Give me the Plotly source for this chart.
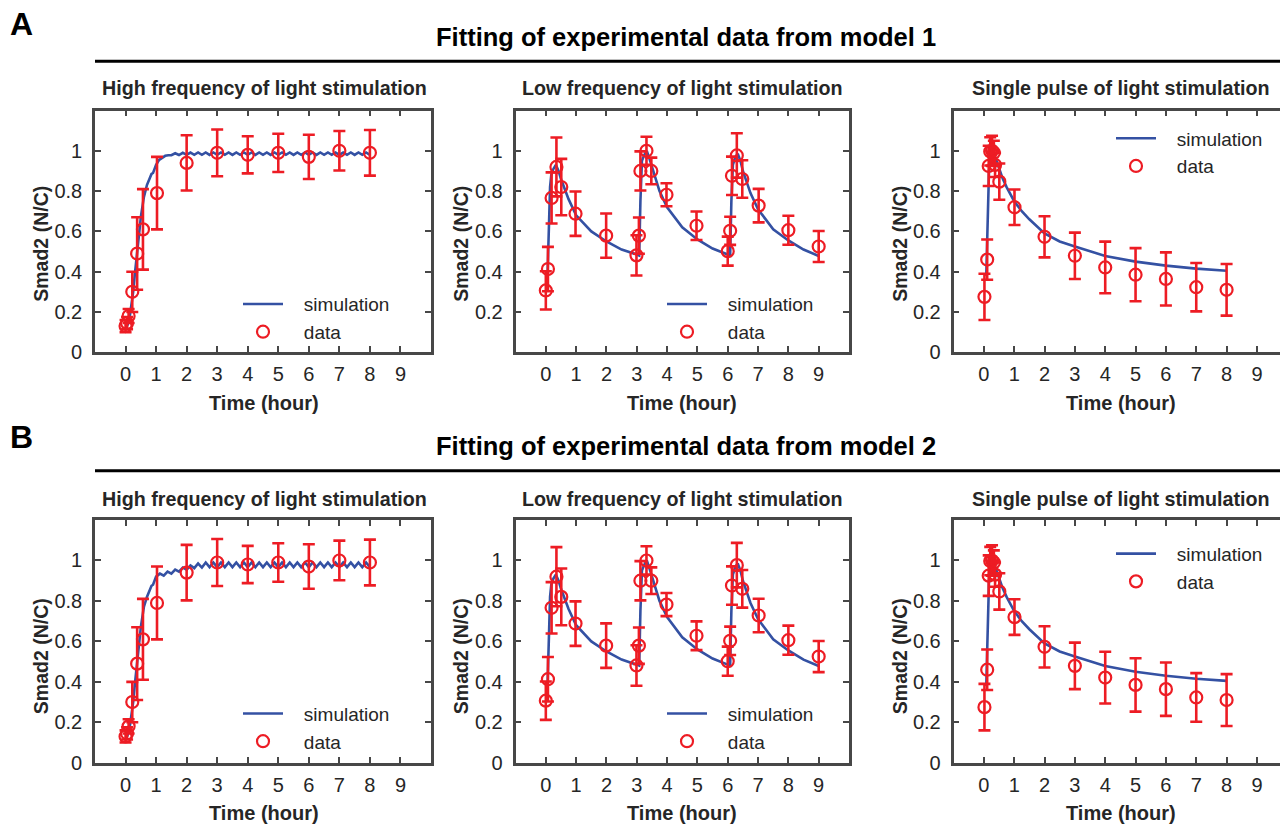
import plotly.graph_objects as go

# ---------------- data ----------------
# High frequency of light stimulation: experimental data
hf_t = [0.0, 0.05, 0.1, 0.22, 0.38, 0.57, 1.03, 2, 3, 4, 5, 6, 7, 8]
hf_v = [0.13, 0.145, 0.18, 0.30, 0.49, 0.61, 0.79, 0.94, 0.99, 0.98, 0.99, 0.97, 1.0, 0.99]
hf_e = [0.03, 0.03, 0.035, 0.10, 0.18, 0.20, 0.18, 0.137, 0.116, 0.092, 0.095, 0.11, 0.098, 0.113]

# High frequency: simulation, model 1
hf_sim1_t = [0.05, 0.1, 0.15, 0.2, 0.25, 0.3, 0.35, 0.4, 0.45, 0.5, 0.55, 0.6, 0.7, 0.8, 0.85,
             0.9, 1.0, 1.1, 1.2, 1.3, 1.4,
             1.5, 1.625, 1.75, 1.875, 2.0, 2.125, 2.25, 2.375, 2.5, 2.625, 2.75, 2.875,
             3.0, 3.125, 3.25, 3.375, 3.5, 3.625, 3.75, 3.875, 4.0, 4.125, 4.25, 4.375,
             4.5, 4.625, 4.75, 4.875, 5.0, 5.125, 5.25, 5.375, 5.5, 5.625, 5.75, 5.875,
             6.0, 6.125, 6.25, 6.375, 6.5, 6.625, 6.75, 6.875, 7.0, 7.125, 7.25, 7.375,
             7.5, 7.625, 7.75, 7.875, 8.0]
hf_sim1_v = [0.13, 0.15, 0.19, 0.24, 0.30, 0.38, 0.46, 0.54, 0.61, 0.67, 0.72, 0.77, 0.83, 0.87, 0.885,
             0.89, 0.93, 0.955, 0.965, 0.975, 0.978,
             0.978, 0.988, 0.979, 0.990, 0.980, 0.991, 0.980, 0.992, 0.980, 0.992, 0.980, 0.992,
             0.980, 0.992, 0.980, 0.992, 0.980, 0.992, 0.980, 0.992, 0.980, 0.992, 0.980, 0.992,
             0.980, 0.992, 0.980, 0.992, 0.980, 0.992, 0.980, 0.992, 0.980, 0.992, 0.980, 0.992,
             0.980, 0.992, 0.980, 0.992, 0.980, 0.992, 0.980, 0.992, 0.980, 0.992, 0.980, 0.992,
             0.980, 0.992, 0.980, 0.992, 0.980]

# High frequency: simulation, model 2
hf_sim2_t = [0.05, 0.1, 0.15, 0.2, 0.25, 0.3, 0.35, 0.4, 0.45, 0.5, 0.55, 0.6, 0.7, 0.8, 0.85,
             0.9, 1.0, 1.125, 1.25, 1.375,
             1.5, 1.625, 1.75, 1.875, 2.0, 2.125, 2.25, 2.375, 2.5, 2.625, 2.75, 2.875,
             3.0, 3.125, 3.25, 3.375, 3.5, 3.625, 3.75, 3.875, 4.0, 4.125, 4.25, 4.375,
             4.5, 4.625, 4.75, 4.875, 5.0, 5.125, 5.25, 5.375, 5.5, 5.625, 5.75, 5.875,
             6.0, 6.125, 6.25, 6.375, 6.5, 6.625, 6.75, 6.875, 7.0, 7.125, 7.25, 7.375,
             7.5, 7.625, 7.75, 7.875, 8.0]
hf_sim2_v = [0.13, 0.15, 0.19, 0.24, 0.30, 0.38, 0.46, 0.54, 0.61, 0.67, 0.72, 0.77, 0.82, 0.86, 0.875,
             0.88, 0.92, 0.935, 0.925, 0.945,
             0.935, 0.955, 0.945, 0.965, 0.955, 0.975, 0.962, 0.985, 0.965, 0.99, 0.967, 0.99,
             0.967, 0.99, 0.967, 0.99, 0.967, 0.99, 0.967, 0.99, 0.967, 0.99, 0.967, 0.99,
             0.967, 0.99, 0.967, 0.99, 0.967, 0.99, 0.967, 0.99, 0.967, 0.99, 0.967, 0.99,
             0.967, 0.99, 0.967, 0.99, 0.967, 0.99, 0.967, 0.99, 0.967, 0.99, 0.967, 0.99,
             0.967, 0.99, 0.967, 0.99, 0.967]

# Low frequency of light stimulation: experimental data
lf_t = [0.0, 0.07, 0.19, 0.35, 0.51, 0.98, 1.99, 2.99, 3.07, 3.12, 3.32, 3.48, 3.98, 4.97,
        6.0, 6.08, 6.14, 6.3, 6.48, 7.02, 8.0, 9.0]
lf_v = [0.307, 0.413, 0.766, 0.92, 0.82, 0.688, 0.579, 0.481, 0.579, 0.90, 1.0, 0.90, 0.782, 0.628,
        0.502, 0.603, 0.876, 0.977, 0.86, 0.728, 0.606, 0.525]
lf_e = [0.095, 0.11, 0.127, 0.146, 0.14, 0.11, 0.11, 0.10, 0.09, 0.097, 0.07, 0.066, 0.057, 0.071,
        0.072, 0.07, 0.095, 0.11, 0.093, 0.083, 0.072, 0.077]

# Low frequency: simulation
lf_sim_t = [0.06, 0.1, 0.14, 0.18, 0.25, 0.33, 0.42, 0.5, 0.75, 1.0, 1.5, 2.0, 2.5, 3.0, 3.08,
            3.12, 3.17, 3.25, 3.33, 3.42, 3.5, 3.75, 4.0, 4.5, 5.0, 5.5, 6.0, 6.08,
            6.12, 6.17, 6.25, 6.33, 6.42, 6.5, 6.75, 7.0, 7.5, 8.0, 8.5, 9.0]
lf_sim_v = [0.40, 0.62, 0.82, 0.88, 0.91, 0.93, 0.90, 0.86, 0.76, 0.68, 0.60, 0.55, 0.51, 0.485, 0.48,
            0.75, 0.95, 0.98, 1.0, 0.96, 0.92, 0.80, 0.72, 0.62, 0.56, 0.515, 0.485, 0.48,
            0.75, 0.93, 0.97, 0.985, 0.95, 0.90, 0.79, 0.71, 0.61, 0.555, 0.51, 0.478]

# Single pulse of light stimulation: experimental data
sp_t = [0.02, 0.11, 0.16, 0.21, 0.27, 0.33, 0.37, 0.51, 1.01, 2.0, 3.0, 4.0, 5.0, 6.0, 7.0, 8.0]
sp_v = [0.275, 0.46, 0.925, 0.997, 1.0, 0.99, 0.93, 0.847, 0.72, 0.573, 0.479, 0.421, 0.385,
        0.364, 0.323, 0.31]
sp_e = [0.115, 0.10, 0.10, 0.07, 0.075, 0.06, 0.06, 0.09, 0.088, 0.102, 0.115, 0.128, 0.132,
        0.132, 0.12, 0.128]

# Single pulse: simulation
sp_sim_t = [0.08, 0.12, 0.17, 0.25, 0.33, 0.42, 0.5, 0.6, 0.75, 1.0, 1.25, 1.5, 2.0, 2.5, 3.0,
            4.0, 5.0, 6.0, 7.0, 8.0]
sp_sim_v = [0.38, 0.60, 0.90, 0.98, 0.985, 0.95, 0.91, 0.87, 0.82, 0.75, 0.70, 0.66, 0.59, 0.55,
            0.525, 0.478, 0.45, 0.43, 0.415, 0.405]

x_ticks = [0, 1, 2, 3, 4, 5, 6, 7, 8, 9]
y_ticks = [0, 0.2, 0.4, 0.6, 0.8, 1.0]
y_tick_text = ["0", "0.2", "0.4", "0.6", "0.8", "1"]

panel_titles = ["High frequency of light stimulation",
                "Low frequency of light stimulation",
                "Single pulse of light stimulation"]
row_titles = ["Fitting of experimental data from model 1",
              "Fitting of experimental data from model 2"]
row_letters = ["A", "B"]
legend_names = ["simulation", "data"]

# ---------------- styling / layout ----------------
W, H = 1280, 830
RED = "#ED1C24"
BLUE = "#3451A3"
AXC = "#474747"
TXT = "#262626"
FONT = "Liberation Sans, Arial, Helvetica, sans-serif"
PAD = "\u00a0\u00a0\u00a0"  # gap between legend glyph and its text


def px(x):
    return x / W


def py(y):
    return 1 - y / H


col_x = [(95, 431), (515.5, 849), (953.5, 1280)]
col_range = [[-1, 10], [-1, 10], [-1, 9.76]]
col_center = [264, 682, 1121]
row_y = [(112, 357), (527, 773)]
ylab_x = [41, 461, 900]
ylab_y = [247, 665]
xlab_y = [408, 824]
sub_title_y = [89, 506]
head_y = [38, 452]
line_y = [62, 477]
letter_y = [24, 443]
legend_pos = {  # (left px, top px) per panel
    (0, 0): (238, 289), (0, 1): (662, 289), (0, 2): (1111, 121),
    (1, 0): (238, 704), (1, 1): (662, 704), (1, 2): (1111, 542),
}

panels = []
for r in range(2):
    panels.append((r, 0, hf_t, hf_v, hf_e, hf_sim1_t if r == 0 else hf_sim2_t,
                   hf_sim1_v if r == 0 else hf_sim2_v))
    panels.append((r, 1, lf_t, lf_v, lf_e, lf_sim_t, lf_sim_v))
    panels.append((r, 2, sp_t, sp_v, sp_e, sp_sim_t, sp_sim_v))

fig = go.Figure()
layout = dict(
    width=W, height=H, margin=dict(l=0, r=0, t=0, b=0),
    paper_bgcolor="white", plot_bgcolor="white",
    font=dict(family=FONT, size=20, color=TXT),
    showlegend=True,
    annotations=[], shapes=[],
)

for i, (r, c, dt, dv, de, st, sv) in enumerate(panels):
    k = i + 1
    sx = "" if k == 1 else str(k)
    leg = "legend" if k == 1 else "legend%d" % k
    fig.add_trace(go.Scatter(
        x=st, y=sv, mode="lines", name=PAD + legend_names[0],
        line=dict(color=BLUE, width=2.6), xaxis="x" + sx, yaxis="y" + sx,
        legend=leg, hoverinfo="skip"))
    fig.add_trace(go.Scatter(
        x=dt, y=dv, mode="markers", name=PAD + legend_names[1],
        marker=dict(symbol="circle-open", size=12, color=RED, line=dict(width=2.2, color=RED)),
        error_y=dict(type="data", array=de, visible=True, color=RED, thickness=2.6, width=6),
        xaxis="x" + sx, yaxis="y" + sx, legend=leg))

    x0, x1 = col_x[c]
    y0, y1 = row_y[r]
    yt = y_ticks if not (r == 0 and c == 1) else y_ticks[1:]
    ytt = y_tick_text if not (r == 0 and c == 1) else y_tick_text[1:]
    layout["xaxis" + sx] = dict(
        domain=[px(x0), px(x1)], anchor="y" + sx, range=col_range[c],
        tickmode="array", tickvals=x_ticks, ticks="inside", ticklen=6, tickwidth=2,
        tickcolor=AXC, showline=True, linecolor=AXC, linewidth=2.6, mirror="ticks",
        showgrid=False, zeroline=False, tickfont=dict(size=20, color=TXT),
        ticklabelstandoff=2, fixedrange=True)
    layout["yaxis" + sx] = dict(
        domain=[py(y1), py(y0)], anchor="x" + sx, range=[0, 1.2],
        tickmode="array", tickvals=yt, ticktext=ytt, ticks="inside", ticklen=6, tickwidth=2,
        tickcolor=AXC, showline=True, linecolor=AXC, linewidth=2.6,
        mirror="ticks" if c < 2 else False,
        showgrid=False, zeroline=False, tickfont=dict(size=20, color=TXT),
        ticklabelstandoff=6, fixedrange=True)
    lx, ly = legend_pos[(r, c)]
    layout[leg] = dict(
        x=px(lx), y=py(ly), xanchor="left", yanchor="top", bgcolor="rgba(0,0,0,0)",
        font=dict(size=19, color=TXT, family=FONT), itemwidth=40, tracegroupgap=0,
        traceorder="normal")

    # panel title, axis titles
    layout["annotations"].append(dict(
        text="<b>%s</b>" % panel_titles[c], x=px(col_center[c]), y=py(sub_title_y[r]),
        xref="paper", yref="paper", xanchor="center", yanchor="middle", showarrow=False,
        font=dict(size=19.7, color=TXT, family=FONT)))
    layout["annotations"].append(dict(
        text="<b>Time (hour)</b>", x=px(col_center[c]), y=py(xlab_y[r]),
        xref="paper", yref="paper", xanchor="center", yanchor="middle", showarrow=False,
        font=dict(size=20, color=TXT, family=FONT)))
    layout["annotations"].append(dict(
        text="<b>Smad2 (N/C)</b>", x=px(ylab_x[c]), y=py(ylab_y[r]), textangle=-90,
        xref="paper", yref="paper", xanchor="center", yanchor="middle", showarrow=False,
        font=dict(size=19.5, color=TXT, family=FONT)))

for r in range(2):
    layout["annotations"].append(dict(
        text="<b>%s</b>" % row_titles[r], x=px(686), y=py(head_y[r]),
        xref="paper", yref="paper", xanchor="center", yanchor="middle", showarrow=False,
        font=dict(size=25.5, color="black", family=FONT)))
    layout["annotations"].append(dict(
        text="<b>%s</b>" % row_letters[r], x=px(21), y=py(letter_y[r]),
        xref="paper", yref="paper", xanchor="center", yanchor="middle", showarrow=False,
        font=dict(size=32, color="black", family=FONT)))
    layout["shapes"].append(dict(
        type="line", xref="paper", yref="paper", x0=px(95), x1=1.0,
        y0=py(line_y[r]), y1=py(line_y[r]), line=dict(color="black", width=3)))

fig.update_layout(**layout)
fig.write_html("out.html", post_script="document.body.style.margin='0';",
               config={"displayModeBar": False})
